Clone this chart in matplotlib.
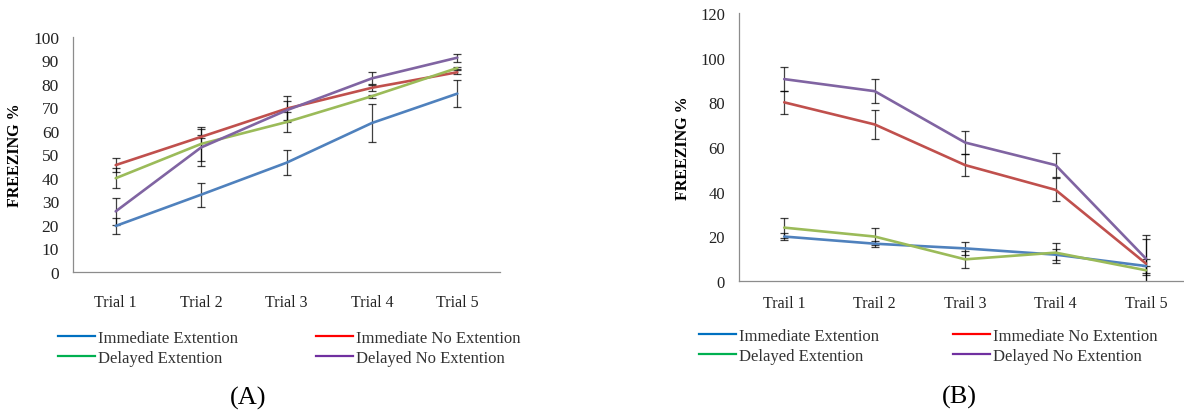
import matplotlib
matplotlib.use("Agg")
import matplotlib.pyplot as plt
from matplotlib.lines import Line2D

plt.rcParams['font.family'] = ['Liberation Serif', 'DejaVu Serif']

# ---- Panel A data ----
trials_a = ["Trial 1", "Trial 2", "Trial 3", "Trial 4", "Trial 5"]
a_imm_ext = [19.6, 32.9, 46.5, 63.4, 75.9]
a_imm_ext_err = [3.4, 5.1, 5.4, 8.0, 5.7]
a_imm_noext = [45.5, 57.5, 69.5, 78.4, 85.0]
a_imm_noext_err = [2.9, 0.6, 5.5, 1.2, 0.8]
a_del_ext = [39.9, 54.5, 63.8, 74.8, 86.8]
a_del_ext_err = [4.3, 7.3, 4.2, 0.6, 0.6]
a_del_noext = [25.8, 53.0, 68.8, 82.4, 91.2]
a_del_noext_err = [5.6, 7.9, 4.0, 2.6, 1.7]

# ---- Panel B data ----
trials_b = ["Trail 1", "Trail 2", "Trail 3", "Trail 4", "Trail 5"]
b_imm_ext = [19.9, 16.7, 14.6, 11.8, 6.7]
b_imm_ext_err = [1.5, 1.3, 3.0, 2.5, 3.0]
b_imm_noext = [80.0, 70.1, 51.9, 40.8, 7.8]
b_imm_noext_err = [5.0, 6.5, 5.0, 5.2, 11.0]
b_del_ext = [23.9, 19.9, 9.7, 12.7, 4.8]
b_del_ext_err = [4.5, 4.0, 3.7, 4.5, 2.0]
b_del_noext = [90.4, 85.0, 62.0, 51.9, 10.0]
b_del_noext_err = [5.5, 5.5, 5.0, 5.3, 10.5]

names = ["Immediate Extention", "Immediate No Extention",
         "Delayed Extention", "Delayed No Extention"]
line_colors = ["#4F81BD", "#C0504D", "#9BBB59", "#8064A2"]
legend_colors = ["#0070C0", "#FF0000", "#00B050", "#7030A0"]

W, H = 1184, 414
fig = plt.figure(figsize=(W / 100, H / 100), dpi=100)

def px_axes(l, r, top, bottom):
    return fig.add_axes([l / W, (H - bottom) / H, (r - l) / W, (bottom - top) / H])

axA = px_axes(73, 500, 38, 273)
axB = px_axes(739, 1184, 14, 282)

def draw(ax, labels, series, errs, ylim, yticks, xmax, ysize):
    x = list(range(len(labels)))
    for vals, err, c in zip(series, errs, line_colors):
        ax.plot(x, vals, color=c, lw=1.9, solid_capstyle='round', zorder=3)
        ax.errorbar(x, vals, yerr=err, fmt='none', ecolor='black', elinewidth=0.9,
                    capsize=3, capthick=0.9, zorder=2, alpha=0.75)
    ax.set_xlim(-0.5, xmax)
    ax.set_ylim(*ylim)
    ax.set_yticks(yticks)
    ax.set_xticks(x)
    ax.set_xticklabels(labels)
    for s in ["top", "right"]:
        ax.spines[s].set_visible(False)
    for s in ["left", "bottom"]:
        ax.spines[s].set_color("#8C8C8C")
        ax.spines[s].set_linewidth(0.9)
    ax.tick_params(axis='both', length=0, colors="#222222")
    ax.tick_params(axis='x', labelsize=11.5, pad=16)
    ax.tick_params(axis='y', labelsize=ysize, pad=10)
    ax.set_ylabel("FREEZING %", fontweight='bold', fontsize=11.5)

draw(axA, trials_a, [a_imm_ext, a_imm_noext, a_del_ext, a_del_noext],
     [a_imm_ext_err, a_imm_noext_err, a_del_ext_err, a_del_noext_err],
     (0, 100), range(0, 101, 10), 4.5, 12.5)
axA.yaxis.set_label_coords((23 - 73) / 427, 0.5)

draw(axB, trials_b, [b_imm_ext, b_imm_noext, b_del_ext, b_del_noext],
     [b_imm_ext_err, b_imm_noext_err, b_del_ext_err, b_del_noext_err],
     (0, 120), range(0, 121, 20), 4.42, 12)
axB.tick_params(axis='x', pad=10)
axB.yaxis.set_label_coords((691 - 739) / 445, 0.5)

def legend_col(idx, xpx, ypx):
    handles = [Line2D([], [], color=legend_colors[i], lw=1.6) for i in idx]
    labs = [names[i] for i in idx]
    lg = fig.legend(handles, labs, loc='upper left', bbox_to_anchor=(xpx / W, (H - ypx) / H),
                    frameon=False, fontsize=12, handlelength=2.2, handletextpad=0.2,
                    labelspacing=0.25, borderpad=0, borderaxespad=0, labelcolor="#333333")
    return lg

legend_col([0, 2], 58, 331)
legend_col([1, 3], 316, 331)
legend_col([0, 2], 699, 329)
legend_col([1, 3], 953, 329)

fig.text(248 / W, (H - 398) / H, "(A)", ha='center', va='center', fontsize=19)
fig.text(959 / W, (H - 397) / H, "(B)", ha='center', va='center', fontsize=19)

fig.savefig("out.png", dpi=100)
